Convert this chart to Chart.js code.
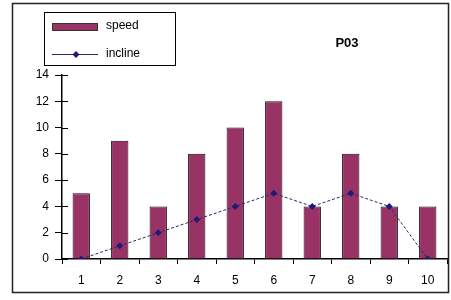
<!DOCTYPE html>
<html><head><meta charset="utf-8">
<script src="https://cdn.jsdelivr.net/npm/chart.js@4/dist/chart.umd.min.js"></script>
<style>html,body{margin:0;padding:0;background:#fff}#wrap{width:451px;height:300px}</style>
</head><body><div id="wrap"><canvas id="c" width="451" height="300"></canvas></div>
<script>
const categories = ['1','2','3','4','5','6','7','8','9','10'];
const speed = [5, 9, 4, 8, 10, 12, 4, 8, 4, 4];
const incline = [0, 1, 2, 3, 4, 5, 4, 5, 4, 0];
const seriesNames = ['speed', 'incline'];
const chartTitle = 'P03';
const yTicks = [0, 2, 4, 6, 8, 10, 12, 14];

const FONT = 'Liberation Sans, Arial, sans-serif';
const barColor = '#993366';
const lineColor = '#2a2a66';
const markColor = '#1f1a78';

const decor = {
  id: 'decor',
  beforeDraw(chart) {
    const ctx = chart.ctx;
    ctx.save();
    ctx.fillStyle = '#fff';
    ctx.fillRect(0, 0, chart.width, chart.height);
    ctx.restore();
  },
  afterDraw(chart) {
    const ctx = chart.ctx;
    ctx.save();
    // outer frame
    ctx.strokeStyle = '#222';
    ctx.lineWidth = 1.5;
    ctx.strokeRect(12.5, 3.5, 436, 289);
    // inside parts of y ticks
    const y = chart.scales.y, ca = chart.chartArea;
    ctx.strokeStyle = '#000';
    ctx.lineWidth = 1;
    yTicks.forEach(v => {
      const py = Math.round(y.getPixelForValue(v)) + 0.5;
      ctx.beginPath(); ctx.moveTo(ca.left, py); ctx.lineTo(ca.left + 6, py); ctx.stroke();
    });
    // legend
    const ds = chart.data.datasets;
    const barDs = ds.find(d => d.type === 'bar');
    const lineDs = ds.find(d => d.type === 'line');
    ctx.strokeStyle = '#000';
    ctx.lineWidth = 1;
    ctx.strokeRect(44.5, 12.5, 131, 53);
    ctx.fillStyle = barDs.backgroundColor;
    ctx.fillRect(52, 23, 46, 8);
    ctx.strokeStyle = '#333';
    ctx.strokeRect(52.5, 23.5, 45, 7);
    ctx.font = '12px ' + FONT;
    ctx.fillStyle = '#000';
    ctx.textBaseline = 'middle';
    ctx.textAlign = 'left';
    ctx.fillText(barDs.label, 106, 26);
    ctx.strokeStyle = lineDs.borderColor;
    ctx.beginPath(); ctx.moveTo(52, 54.5); ctx.lineTo(98, 54.5); ctx.stroke();
    ctx.fillStyle = lineDs.pointBackgroundColor;
    ctx.beginPath(); ctx.moveTo(76, 51); ctx.lineTo(79.5, 54.5); ctx.lineTo(76, 58); ctx.lineTo(72.5, 54.5); ctx.closePath(); ctx.fill();
    ctx.fillStyle = '#000';
    ctx.fillText(lineDs.label, 106, 54);
    // title
    ctx.font = 'bold 13px ' + FONT;
    ctx.textAlign = 'center';
    ctx.fillText(chartTitle, 347, 43);
    ctx.restore();
  }
};

new Chart(document.getElementById('c'), {
  data: {
    labels: categories,
    datasets: [
      { type: 'line', label: seriesNames[1], data: incline, borderColor: lineColor, borderWidth: 1,
        borderDash: [3, 2], pointStyle: 'rectRot', pointRadius: 3.5, pointBackgroundColor: markColor,
        pointBorderColor: markColor, pointBorderWidth: 0, tension: 0, order: 0 },
      { type: 'bar', label: seriesNames[0], data: speed, backgroundColor: barColor, borderColor: '#1a0a10',
        borderWidth: 1, barPercentage: 0.45, categoryPercentage: 1, order: 1 }
    ]
  },
  options: {
    responsive: false, animation: false, devicePixelRatio: 1,
    layout: { padding: { left: 0, top: 75, right: 3, bottom: 0 } },
    plugins: { legend: { display: false }, title: { display: false }, tooltip: { enabled: false } },
    scales: {
      x: {
        offset: true,
        grid: { display: true, drawOnChartArea: false, drawTicks: true, tickLength: 5, color: '#000', offset: true },
        border: { display: true, color: '#000', width: 1.5 },
        ticks: { color: '#000', font: { family: FONT, size: 12 }, padding: 9, maxRotation: 0 },
        afterFit(s) { s.height = 41; }
      },
      y: {
        min: 0, max: 14,
        afterBuildTicks(s) { s.ticks = yTicks.map(v => ({ value: v })); },
        grid: { display: true, drawOnChartArea: false, drawTicks: true, tickLength: 7, color: '#000' },
        border: { display: true, color: '#000', width: 1.5 },
        ticks: { color: '#000', font: { family: FONT, size: 12 }, padding: 6 },
        afterFit(s) { s.width = 62; }
      }
    }
  },
  plugins: [decor]
});
</script></body></html>
